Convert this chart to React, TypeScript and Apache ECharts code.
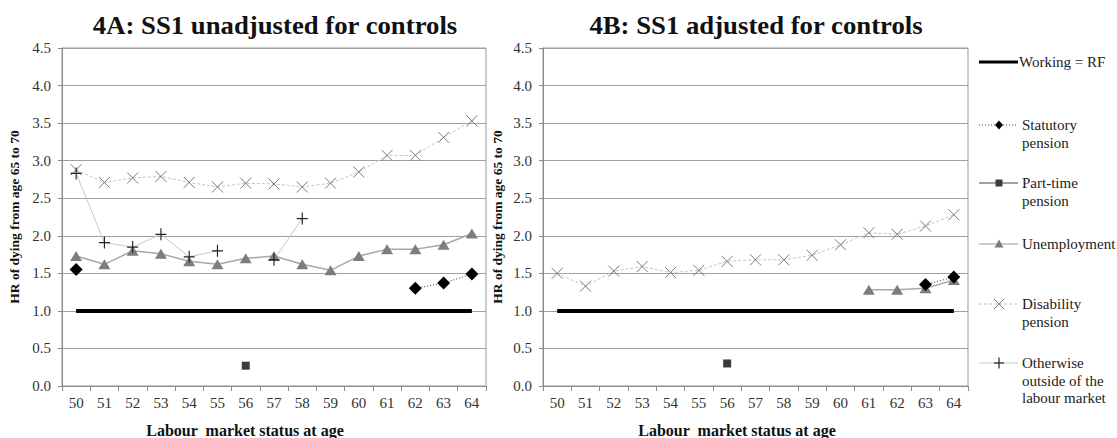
import React, { useEffect, useRef } from 'react';
import * as echarts from 'echarts';

const ages = ['50', '51', '52', '53', '54', '55', '56', '57', '58', '59', '60', '61', '62', '63', '64'];

// 4A: unadjusted
const workingA = [1, 1, 1, 1, 1, 1, 1, 1, 1, 1, 1, 1, 1, 1, 1];
const statutoryA = [1.55, null, null, null, null, null, null, null, null, null, null, null, 1.30, 1.37, 1.49];
const partTimeA = [null, null, null, null, null, null, 0.27, null, null, null, null, null, null, null, null];
const unemploymentA = [1.73, 1.62, 1.80, 1.76, 1.66, 1.62, 1.70, 1.73, 1.62, 1.54, 1.73, 1.82, 1.82, 1.88, 2.03];
const disabilityA = [2.88, 2.71, 2.77, 2.79, 2.71, 2.65, 2.70, 2.69, 2.65, 2.70, 2.85, 3.07, 3.07, 3.31, 3.53];
const otherwiseA = [2.83, 1.91, 1.85, 2.02, 1.72, 1.80, null, 1.68, 2.23, null, null, null, null, null, null];

// 4B: adjusted
const workingB = [1, 1, 1, 1, 1, 1, 1, 1, 1, 1, 1, 1, 1, 1, 1];
const statutoryB = [null, null, null, null, null, null, null, null, null, null, null, null, null, 1.35, 1.45];
const partTimeB = [null, null, null, null, null, null, 0.30, null, null, null, null, null, null, null, null];
const unemploymentB = [null, null, null, null, null, null, null, null, null, null, null, 1.28, 1.28, 1.30, 1.41];
const disabilityB = [1.50, 1.33, 1.53, 1.59, 1.51, 1.54, 1.66, 1.68, 1.68, 1.74, 1.88, 2.04, 2.02, 2.13, 2.28];

const titles = ['4A: SS1 unadjusted for controls', '4B: SS1 adjusted for controls'];
const yName = 'HR of dying from age 65 to 70';
const xName = 'Labour  market status at age';

const legendItems = ['Working = RF', 'Statutory\npension', 'Part-time\npension', 'Unemployment', 'Disability\npension', 'Otherwise\noutside of the\nlabour market'];

const FONT = 'Liberation Serif';
const X_PATH = 'path://M0,0L10,10M10,0L0,10';
const PLUS_PATH = 'path://M5,0L5,10M0,5L10,5';

function seriesFor(g: number, working: any[], statutory: any[], partTime: any[], unemployment: any[], disability: any[], otherwise: any[] | null) {
  const base = { type: 'line', xAxisIndex: g, yAxisIndex: g, connectNulls: false, silent: true };
  const out: any[] = [
    {
      ...base, name: 'Working = RF', data: working, symbol: 'none',
      lineStyle: { color: '#000', width: 4 }, z: 3,
    },
    {
      ...base, name: 'Disability pension', data: disability, symbol: X_PATH, symbolSize: 11,
      itemStyle: { color: 'none', borderColor: '#7a7a7a', borderWidth: 1 },
      lineStyle: { color: '#c4c4c4', width: 1, type: [3, 2] }, z: 4,
    },
    {
      ...base, name: 'Unemployment', data: unemployment, symbol: 'triangle', symbolSize: [12, 10],
      itemStyle: { color: '#7d7d7d' },
      lineStyle: { color: '#a8a8a8', width: 1.5 }, z: 5,
    },
    {
      ...base, name: 'Statutory pension', data: statutory, symbol: 'diamond', symbolSize: 13,
      itemStyle: { color: '#000' },
      lineStyle: { color: '#333', width: 1, type: [1, 2] }, z: 6,
    },
    {
      ...base, name: 'Part-time pension', data: partTime, symbol: 'rect', symbolSize: 8,
      itemStyle: { color: '#3c3c3c' },
      lineStyle: { color: '#3c3c3c', width: 1 }, z: 6,
    },
  ];
  if (otherwise) {
    out.push({
      ...base, name: 'Otherwise outside of the labour market', data: otherwise, symbol: PLUS_PATH, symbolSize: [11, 12],
      itemStyle: { color: 'none', borderColor: '#222', borderWidth: 1.2 },
      lineStyle: { color: '#c8c8c8', width: 1 }, z: 5,
    });
  }
  return out;
}

export default function App() {
  const ref = useRef<HTMLDivElement>(null);
  useEffect(() => {
    document.body.style.margin = '0';
    const chart = echarts.init(ref.current!, null, { renderer: 'svg' });

    const gridCommon = { top: 48, bottom: 52, show: true, borderColor: '#9a9a9a', borderWidth: 1, backgroundColor: 'transparent' };
    const xAxisCommon = {
      type: 'category', data: ages, boundaryGap: true,
      axisLine: { lineStyle: { color: '#8a8a8a', width: 1 } },
      axisTick: { show: true, length: 5, lineStyle: { color: '#8a8a8a' } },
      axisLabel: { color: '#333', fontFamily: FONT, fontSize: 15, margin: 9 },
      splitLine: { show: false },
    };
    const yAxisCommon = {
      type: 'value', min: 0, max: 4.5, interval: 0.5,
      axisLine: { show: true, lineStyle: { color: '#8a8a8a', width: 1 } },
      axisTick: { show: true, length: 4, lineStyle: { color: '#8a8a8a' } },
      axisLabel: { color: '#333', fontFamily: FONT, fontSize: 15, margin: 11, formatter: (v: number) => v.toFixed(1) },
      splitLine: { show: true, lineStyle: { color: '#a0a0a0', width: 1 } },
    };

    const lx1 = 979, lx2 = 1018, lmx = 999, ltx = 1022;
    const ys = [62, 125, 183, 244, 304, 363];
    const lineH = 17.5;
    const legendGraphics: any[] = [];
    // Working
    legendGraphics.push({ type: 'line', shape: { x1: lx1, y1: ys[0], x2: lx2, y2: ys[0] }, style: { stroke: '#000', lineWidth: 3 } });
    // Statutory
    legendGraphics.push({ type: 'line', shape: { x1: lx1, y1: ys[1], x2: lx2, y2: ys[1] }, style: { stroke: '#444', lineWidth: 1, lineDash: [1, 2] } });
    legendGraphics.push({ type: 'polygon', shape: { points: [[lmx, ys[1] - 4.5], [lmx + 4, ys[1]], [lmx, ys[1] + 4.5], [lmx - 4, ys[1]]] }, style: { fill: '#000' } });
    // Part-time
    legendGraphics.push({ type: 'line', shape: { x1: lx1, y1: ys[2], x2: lx2, y2: ys[2] }, style: { stroke: '#444', lineWidth: 1 } });
    legendGraphics.push({ type: 'rect', shape: { x: lmx - 3.5, y: ys[2] - 3.5, width: 7, height: 7 }, style: { fill: '#3c3c3c' } });
    // Unemployment
    legendGraphics.push({ type: 'line', shape: { x1: lx1, y1: ys[3], x2: lx2, y2: ys[3] }, style: { stroke: '#999', lineWidth: 1 } });
    legendGraphics.push({ type: 'polygon', shape: { points: [[lmx, ys[3] - 4.5], [lmx + 4.5, ys[3] + 3.5], [lmx - 4.5, ys[3] + 3.5]] }, style: { fill: '#7d7d7d' } });
    // Disability
    legendGraphics.push({ type: 'line', shape: { x1: lx1, y1: ys[4], x2: lx2, y2: ys[4] }, style: { stroke: '#c4c4c4', lineWidth: 1, lineDash: [3, 2] } });
    legendGraphics.push({ type: 'line', shape: { x1: lmx - 5, y1: ys[4] - 5, x2: lmx + 5, y2: ys[4] + 5 }, style: { stroke: '#7a7a7a', lineWidth: 1 } });
    legendGraphics.push({ type: 'line', shape: { x1: lmx + 5, y1: ys[4] - 5, x2: lmx - 5, y2: ys[4] + 5 }, style: { stroke: '#7a7a7a', lineWidth: 1 } });
    // Otherwise
    legendGraphics.push({ type: 'line', shape: { x1: lx1, y1: ys[5], x2: lx2, y2: ys[5] }, style: { stroke: '#c8c8c8', lineWidth: 1 } });
    legendGraphics.push({ type: 'line', shape: { x1: lmx - 5, y1: ys[5], x2: lmx + 5, y2: ys[5] }, style: { stroke: '#222', lineWidth: 1.2 } });
    legendGraphics.push({ type: 'line', shape: { x1: lmx, y1: ys[5] - 5.5, x2: lmx, y2: ys[5] + 5.5 }, style: { stroke: '#222', lineWidth: 1.2 } });

    legendItems.forEach((t, i) => {
      legendGraphics.push({
        type: 'text', x: i === 0 ? 1019 : ltx, y: ys[i] - lineH / 2,
        style: {
          text: t, fontFamily: FONT, fontSize: 15, fill: '#222', lineHeight: lineH,
          textAlign: 'left', align: 'left', textVerticalAlign: 'top', verticalAlign: 'top',
        },
      });
    });

    const textG = (text: string, x: number, y: number, size: number, rotation = 0, scaleX = 1) => ({
      type: 'text', x, y, rotation, scaleX,
      style: {
        text, fontFamily: FONT, fontSize: size, fontWeight: 'bold', fill: '#111',
        textAlign: 'center', align: 'center', textVerticalAlign: 'middle', verticalAlign: 'middle',
      },
    });

    const option: any = {
      animation: false,
      backgroundColor: '#fff',
      textStyle: { fontFamily: FONT },
      grid: [
        { ...gridCommon, left: 62, right: 1117 - 486 },
        { ...gridCommon, left: 543, right: 1117 - 968 },
      ],
      xAxis: [{ ...xAxisCommon, gridIndex: 0 }, { ...xAxisCommon, gridIndex: 1 }],
      yAxis: [{ ...yAxisCommon, gridIndex: 0 }, { ...yAxisCommon, gridIndex: 1 }],
      series: [
        ...seriesFor(0, workingA, statutoryA, partTimeA, unemploymentA, disabilityA, otherwiseA),
        ...seriesFor(1, workingB, statutoryB, partTimeB, unemploymentB, disabilityB, null),
      ],
      graphic: [
        textG(titles[0], 275, 26, 25, 0, 1.07),
        textG(titles[1], 756, 26, 25, 0, 1.07),
        textG(yName, 14, 217, 13.5, Math.PI / 2),
        textG(yName, 497, 217, 13.5, Math.PI / 2),
        textG(xName, 245, 430, 16),
        textG(xName, 737, 430, 16),
        ...legendGraphics,
      ],
    };
    chart.setOption(option);
    return () => chart.dispose();
  }, []);
  return <div ref={ref} style={{ width: 1117, height: 438 }} />;
}
